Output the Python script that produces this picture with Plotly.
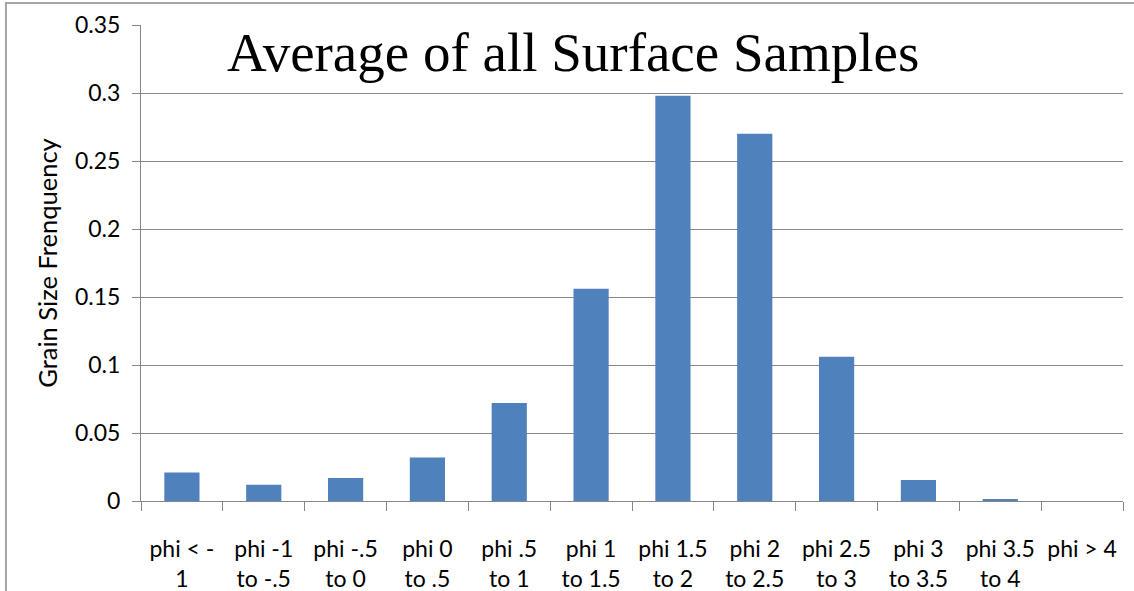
import plotly.graph_objects as go

categories = ["phi < -1", "phi -1 to -.5", "phi -.5 to 0", "phi 0 to .5", "phi .5 to 1",
              "phi 1 to 1.5", "phi 1.5 to 2", "phi 2 to 2.5", "phi 2.5 to 3", "phi 3 to 3.5",
              "phi 3.5 to 4", "phi > 4"]
tick_labels = ["phi < -<br>1", "phi -1<br>to -.5", "phi -.5<br>to 0", "phi 0<br>to .5",
               "phi .5<br>to 1", "phi 1<br>to 1.5", "phi 1.5<br>to 2", "phi 2<br>to 2.5",
               "phi 2.5<br>to 3", "phi 3<br>to 3.5", "phi 3.5<br>to 4", "phi > 4"]
frequency = [0.021, 0.012, 0.017, 0.032, 0.072, 0.156, 0.298, 0.270, 0.106, 0.0155, 0.0015, 0.0]
y_ticks = [0, 0.05, 0.1, 0.15, 0.2, 0.25, 0.3, 0.35]
y_tick_labels = ["0", "0.05", "0.1", "0.15", "0.2", "0.25", "0.3", "0.35"]

fig = go.Figure(go.Bar(x=categories, y=frequency, marker_color="#4F81BD",
                       marker_line_width=0))

font_main = "Lato, 'Open Sans', sans-serif"
fig.update_layout(
    width=1134, height=591,
    margin=dict(l=141, r=11, t=25, b=90),
    paper_bgcolor="white", plot_bgcolor="white",
    bargap=0.57,
    showlegend=False,
    font=dict(family=font_main, color="black", size=23),
    xaxis=dict(
        type="category", tickmode="array", tickvals=categories, ticktext=tick_labels,
        tickson="boundaries", ticks="outside", ticklen=9, tickcolor="#868686",
        showline=True, linecolor="#868686", linewidth=1, showgrid=False,
        tickfont=dict(size=23, family=font_main, color="black"),
        ticklabelstandoff=27, tickangle=0, automargin=False,
    ),
    yaxis=dict(
        range=[0, 0.35], tickmode="array", tickvals=y_ticks, ticktext=y_tick_labels,
        ticks="outside", ticklen=8, tickcolor="#868686",
        showline=True, linecolor="#868686", linewidth=1,
        showgrid=True, gridcolor="#868686", gridwidth=1, zeroline=False,
        tickfont=dict(size=23, family=font_main, color="black"),
        ticklabelstandoff=7, automargin=False,
        title=dict(text="Grain Size Frenquency", font=dict(size=25.5, family=font_main, color="black"),
                   standoff=10),
    ),
    annotations=[dict(
        text="Average of all Surface Samples", xref="paper", yref="paper",
        x=0.44, y=0.943, xanchor="center", yanchor="middle", showarrow=False,
        font=dict(family="'Liberation Serif', 'Times New Roman', serif", size=55, color="black"),
    )],
    shapes=[dict(type="path", xref="paper", yref="paper",
                 path="M -0.1375 -0.3 L -0.1375 1.046 L 1.05 1.046",
                 line=dict(color="#a6a6a6", width=2), layer="above")],
)

fig.write_html("out.html")
